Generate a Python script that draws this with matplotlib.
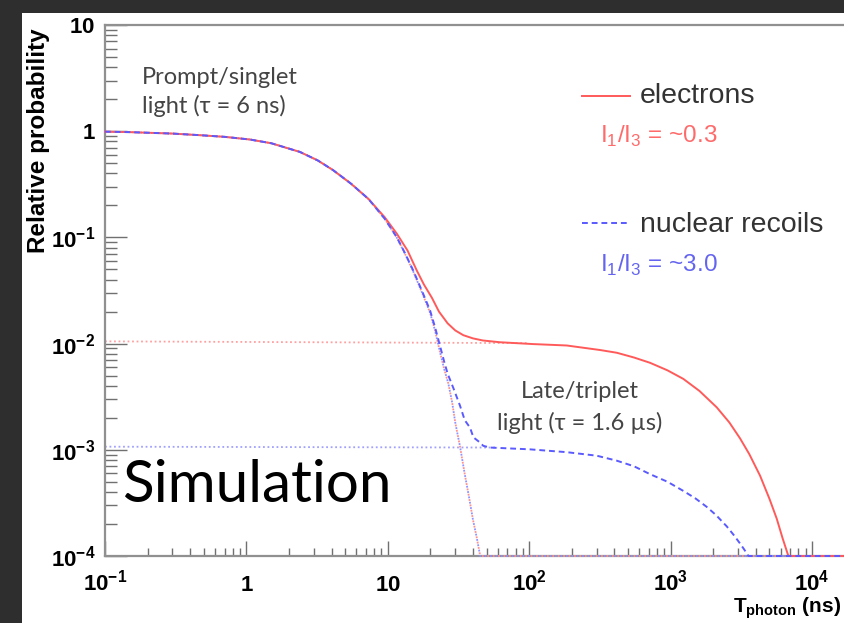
import numpy as np
import matplotlib
matplotlib.use("Agg")
import matplotlib.pyplot as plt
from matplotlib.patches import Rectangle
from matplotlib.lines import Line2D
from matplotlib.ticker import LogLocator, NullFormatter

plt.rcParams['font.family'] = ['Liberation Sans', 'DejaVu Sans']
plt.rcParams['mathtext.fontset'] = 'custom'
plt.rcParams['mathtext.rm'] = 'Liberation Sans'
plt.rcParams['mathtext.bf'] = 'Liberation Sans:bold'

# values (time in ns, relative probability)
e_t = [0.1, 0.15, 0.21, 0.3, 0.47, 0.7, 1.06, 1.5, 2.39, 3.2, 4.1, 5.5, 7.3,
       9.5, 11.6, 13.8, 16.0, 18.0, 20.5, 23.0, 26.5, 30, 34.2, 40, 47, 62,
       106, 184, 317, 416, 550, 714, 950, 1230, 1600, 2118, 2600, 3097, 3600,
       4290, 5000, 5624, 6200, 6800, 10000, 17100]
e_y = [0.99, 0.98, 0.965, 0.95, 0.917, 0.885, 0.835, 0.77, 0.638, 0.53, 0.43,
       0.32, 0.23, 0.155, 0.108, 0.075, 0.049, 0.036, 0.027, 0.020, 0.0155,
       0.0133, 0.0120, 0.0112, 0.0107, 0.0103, 0.0099, 0.0096, 0.0087, 0.0082,
       0.0074, 0.0066, 0.0056, 0.00465, 0.00358, 0.00251, 0.00181, 0.00128,
       0.00091, 0.00057, 0.000345, 0.000225, 0.000146, 0.0001, 0.0001, 0.0001]

n_t = [0.1, 0.15, 0.21, 0.3, 0.47, 0.7, 1.06, 1.5, 2.39, 3.2, 4.1, 5.5, 7.3,
       9.5, 11.6, 13.3, 15.1, 17.5, 19.9, 21.5, 23.4, 25, 26.5, 29.1, 32.4,
       35, 38.1, 40.3, 44.9, 47.3, 52.8, 62, 101, 184, 300, 416, 550, 714,
       950, 1230, 1500, 1800, 2100, 2494, 2800, 3097, 3300, 3548, 10000, 17100]
n_y = [0.99, 0.98, 0.965, 0.95, 0.917, 0.885, 0.835, 0.77, 0.638, 0.53, 0.43,
       0.32, 0.23, 0.15, 0.100, 0.07, 0.049, 0.031, 0.0205, 0.0145, 0.0095,
       0.0068, 0.0052, 0.0038, 0.0026, 0.0019, 0.00162, 0.00131, 0.00117,
       0.00109, 0.00105, 0.00104, 0.00101, 0.00095, 0.00088, 0.00079,
       0.0007, 0.00059, 0.0005, 0.00041, 0.000348, 0.00029, 0.000242,
       0.00019, 0.000157, 0.000131, 0.000116, 0.0001, 0.0001, 0.0001]

# prompt (singlet) component alone
s_t = [0.1, 0.15, 0.21, 0.3, 0.47, 0.7, 1.06, 1.5, 2.39, 3.2, 4.1, 5.5, 7.3,
       9.5, 11.6, 13.3, 15.1, 17.5, 19.9, 21.5, 23.4, 25, 26.8, 28.5, 30,
       32.5, 35, 37.5, 40, 42.5, 45, 10000, 17100]
s_y = [0.99, 0.98, 0.965, 0.95, 0.917, 0.885, 0.835, 0.77, 0.638, 0.53, 0.43,
       0.32, 0.23, 0.15, 0.099, 0.069, 0.048, 0.03, 0.0195, 0.0135, 0.0083,
       0.0058, 0.0042, 0.0028, 0.0018, 0.00105, 0.00059, 0.00036, 0.00022,
       0.00015, 0.0001, 0.0001, 0.0001]

# late (triplet) components
te_t = [0.1, 100]
te_y = [0.0105, 0.0101]
tn_t = [0.1, 60]
tn_y = [0.00107, 0.00105]

x_ticks = [0.1, 1, 10, 100, 1000, 10000]
x_labels = [r'$\mathbf{10^{-1}}$', r'$\mathbf{1}$', r'$\mathbf{10}$',
            r'$\mathbf{10^{2}}$', r'$\mathbf{10^{3}}$', r'$\mathbf{10^{4}}$']
y_ticks = [1e-4, 1e-3, 1e-2, 1e-1, 1, 10]
y_labels = [r'$\mathbf{10^{-4}}$', r'$\mathbf{10^{-3}}$', r'$\mathbf{10^{-2}}$',
            r'$\mathbf{10^{-1}}$', r'$\mathbf{1}$', r'$\mathbf{10}$']

RED = '#ff5a5a'
BLUE = '#5a5aff'
W, H = 845.0, 623.0

fig = plt.figure(figsize=(8.45, 6.23), dpi=100, facecolor='#2e2e2e')
fig.patches.append(Rectangle((22 / W, 0), 1, 1 - 13 / H, transform=fig.transFigure,
                             facecolor='white', edgecolor='none', zorder=-10))

ax = fig.add_axes([105 / W, 1 - 556 / H, 1 - 105 / W, (556 - 25) / H])
ax.set_facecolor('white')
ax.set_xscale('log')
ax.set_yscale('log')
ax.set_xlim(0.1, 17100)
ax.set_ylim(1e-4, 10)

ax.plot(te_t, te_y, color='#ffa0a0', lw=1.3, ls=(0, (1, 1.5)))
ax.plot(tn_t, tn_y, color='#a0a0ff', lw=1.3, ls=(0, (1, 1.5)))
ax.plot(s_t, s_y, color='#ff9090', lw=1.3, ls=(0, (1, 2)), clip_on=False, zorder=3)
ax.plot(s_t, s_y, color='#9090ff', lw=1.3, ls=(1.5, (1, 2)), clip_on=False, zorder=3)
ax.plot(e_t, e_y, color=RED, lw=1.4, clip_on=False, zorder=3)
ax.plot(n_t, n_y, color=BLUE, lw=1.4, ls=(0, (3, 2)), clip_on=False, zorder=3)

ax.spines['right'].set_visible(False)
for side in ['left', 'top', 'bottom']:
    ax.spines[side].set_color('#909090')
    ax.spines[side].set_linewidth(1.6)

ax.set_xticks(x_ticks)
ax.set_xticklabels(x_labels)
ax.set_yticks(y_ticks)
ax.set_yticklabels(y_labels)
ax.xaxis.set_minor_locator(LogLocator(base=10, subs=np.arange(2, 10), numticks=20))
ax.yaxis.set_minor_locator(LogLocator(base=10, subs=np.arange(2, 10), numticks=20))
ax.xaxis.set_minor_formatter(NullFormatter())
ax.yaxis.set_minor_formatter(NullFormatter())
ax.tick_params(axis='both', which='both', direction='in', color='#707070', width=1,
               labelsize=16)
ax.tick_params(axis='x', which='major', length=11, pad=25, top=False)
ax.tick_params(axis='x', which='minor', length=5.8, top=False)
ax.tick_params(axis='y', which='major', length=16, pad=7, right=False)
ax.tick_params(axis='y', which='minor', length=8.5, right=False)
for lbl in ax.get_xticklabels():
    lbl.set_verticalalignment('baseline')

fig.text(39 / W, 1 - 28 / H, 'Relative probability', rotation=90, ha='center',
         va='top', fontsize=17.5, fontweight='bold')
fig.text(733 / W, 1 - 612 / H, r'T$_{\mathbf{photon}}$ (ns)', ha='left',
         va='baseline', fontsize=15, fontweight='bold')

gill = ['Lato', 'DejaVu Sans']
fig.text(142 / W, 1 - 84 / H, 'Prompt/singlet', family=gill, fontsize=17,
         color='#454545', va='baseline')
fig.text(142 / W, 1 - 113 / H, 'light (τ = 6 ns)', family=gill, fontsize=17,
         color='#454545', va='baseline')
fig.text(580 / W, 1 - 398 / H, 'Late/triplet', family=gill, fontsize=17,
         color='#454545', va='baseline', ha='center')
fig.text(580 / W, 1 - 430 / H, 'light (τ = 1.6 µs)', family=gill, fontsize=17,
         color='#454545', va='baseline', ha='center')
fig.text(122 / W, 1 - 502 / H, 'Simulation', family=gill, fontsize=42,
         color='black', va='baseline')

# legend
fig.add_artist(Line2D([582 / W, 630 / W], [1 - 96 / H, 1 - 96 / H], color=RED, lw=1.4))
fig.add_artist(Line2D([582 / W, 628 / W], [1 - 223 / H, 1 - 223 / H], color=BLUE,
                      lw=1.4, ls=(0, (3, 2))))
fig.text(640 / W, 1 - 103 / H, 'electrons', fontsize=20.5, color='#333333',
         va='baseline')
fig.text(640 / W, 1 - 232 / H, 'nuclear recoils', fontsize=20.5, color='#333333',
         va='baseline')
fig.text(600 / W, 1 - 143 / H, r'I$_1$/I$_3$ = ~0.3', fontsize=17.5, color='#ff6a6a',
         va='baseline')
fig.text(600 / W, 1 - 272 / H, r'I$_1$/I$_3$ = ~3.0', fontsize=17.5, color='#6464f0',
         va='baseline')

fig.savefig('out.png', dpi=100, facecolor=fig.get_facecolor())
